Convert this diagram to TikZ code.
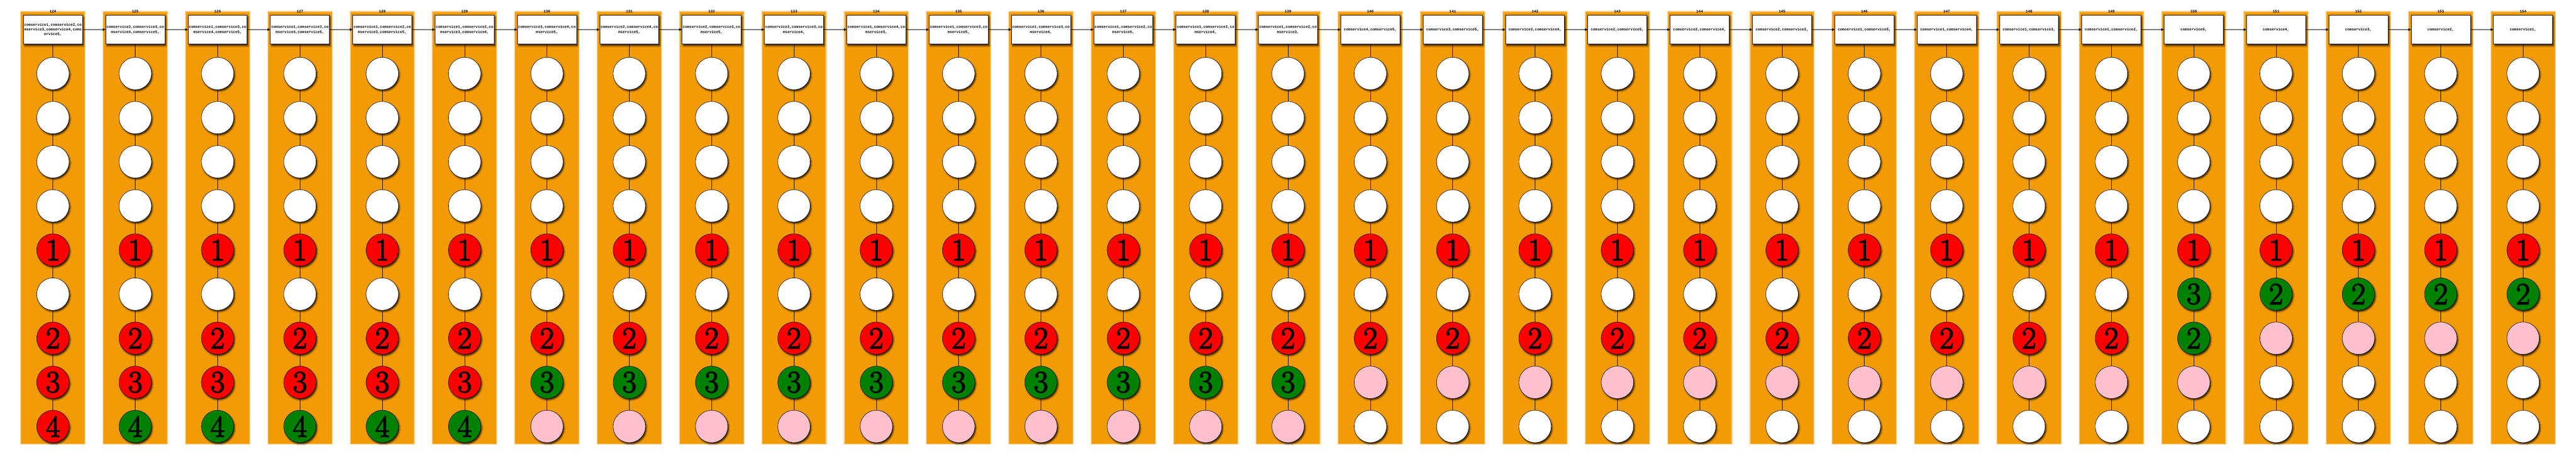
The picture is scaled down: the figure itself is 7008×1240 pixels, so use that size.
\documentclass[tikz,border=0pt]{standalone}
\usepackage{fontspec}
\newfontfamily\boxfont{Liberation Mono}
\newfontfamily\digfont{Latin Modern Roman}[FakeBold=3]
\usetikzlibrary{arrows.meta}
\IfFileExists{tikzlibraryshadows.blur.code.tex}{%
  \usetikzlibrary{shadows.blur}%
  \tikzset{
    boxshadow/.style={blur shadow={shadow xshift=3pt,shadow yshift=-5pt,shadow blur radius=3pt,shadow opacity=65}},
    circshadow/.style={blur shadow={shadow xshift=3pt,shadow yshift=-4pt,shadow blur radius=3pt,shadow opacity=75}}}%
}{%
  \usetikzlibrary{shadows}%
  \tikzset{
    boxshadow/.style={drop shadow={shadow xshift=3pt,shadow yshift=-5pt,opacity=.5,fill=black}},
    circshadow/.style={drop shadow={shadow xshift=3pt,shadow yshift=-4pt,opacity=.6,fill=black}}}%
}
\definecolor{bandorange}{RGB}{243,155,6}
\definecolor{cred}{RGB}{255,0,0}
\definecolor{cgreen}{RGB}{0,128,0}
\definecolor{cpink}{RGB}{255,192,203}
\newcommand\digitfont{\digfont\fontsize{84}{84}\selectfont}
\tikzset{
  boxn/.style={draw,line width=1.2pt,fill=white,minimum width=161pt,minimum height=79pt,
    inner sep=0pt,align=center,font=\boxfont\bfseries\fontsize{10}{13}\selectfont,boxshadow},
  titlen/.style={inner sep=0pt,font=\boxfont\bfseries\fontsize{10}{12}\selectfont},
  cnode/.style={circle,draw,line width=0.9pt,minimum size=88pt,inner sep=0pt,font=\digitfont,circshadow},
  cW/.style={fill=white},
  cR/.style={fill=cred},
  cG/.style={fill=cgreen},
  cP/.style={fill=cpink},
  conn/.style={line width=0.9pt},
  arr/.style={line width=1pt,-{Triangle[length=7pt,width=7pt]}}
}
\def\rownode#1#2#3#4\relax{\node[cnode,c#3] (c#1-#2) at (\cx,{200+120*#2}) {#4};}
\newcommand\onecol[7]{%
  \pgfmathsetmacro\cx{144+224*#1}%
  \pgfmathtruncatemacro\lab{124+#1}%
  \fill[bandorange,opacity=.3] ({\cx-89},30) rectangle ({\cx+89},1210);
  \fill[bandorange,opacity=.5] ({\cx-87.5},31.5) rectangle ({\cx+87.5},1208.5);
  \fill[bandorange] ({\cx-86},33) rectangle ({\cx+86},1207);
  \node[boxn] (b#1) at (\cx,80.5) {#2};
  \node[titlen] (t#1) at (\cx,30.5) {\lab};
  \foreach \k in {0,...,3} {\node[cnode,cW] (c#1-\k) at (\cx,{200+120*\k}) {};}
  \rownode{#1}{4}#3\relax
  \rownode{#1}{5}#4\relax
  \rownode{#1}{6}#5\relax
  \rownode{#1}{7}#6\relax
  \rownode{#1}{8}#7\relax
  \draw[conn] (b#1.south) -- (c#1-0.north);
  \foreach \k in {0,...,7} {\pgfmathtruncatemacro\kk{\k+1}\draw[conn] (c#1-\k.south) -- (c#1-\kk.north);}
}
\begin{document}
\begin{tikzpicture}[x=1pt,y=-1pt]
\useasboundingbox[fill=white] (0,0) rectangle (7008,1240);
\onecol{0}{comservice1,comservice2,co\\mservice3,comservice4,coms\\ervice5,}{R1}{W}{R2}{R3}{R4}
\onecol{1}{comservice2,comservice3,co\\mservice4,comservice5,}{R1}{W}{R2}{R3}{G4}
\onecol{2}{comservice1,comservice3,co\\mservice4,comservice5,}{R1}{W}{R2}{R3}{G4}
\onecol{3}{comservice1,comservice2,co\\mservice4,comservice5,}{R1}{W}{R2}{R3}{G4}
\onecol{4}{comservice1,comservice2,co\\mservice3,comservice5,}{R1}{W}{R2}{R3}{G4}
\onecol{5}{comservice1,comservice2,co\\mservice3,comservice4,}{R1}{W}{R2}{R3}{G4}
\onecol{6}{comservice3,comservice4,co\\mservice5,}{R1}{W}{R2}{G3}{P}
\onecol{7}{comservice2,comservice4,co\\mservice5,}{R1}{W}{R2}{G3}{P}
\onecol{8}{comservice2,comservice3,co\\mservice5,}{R1}{W}{R2}{G3}{P}
\onecol{9}{comservice2,comservice3,co\\mservice4,}{R1}{W}{R2}{G3}{P}
\onecol{10}{comservice1,comservice4,co\\mservice5,}{R1}{W}{R2}{G3}{P}
\onecol{11}{comservice1,comservice3,co\\mservice5,}{R1}{W}{R2}{G3}{P}
\onecol{12}{comservice1,comservice3,co\\mservice4,}{R1}{W}{R2}{G3}{P}
\onecol{13}{comservice1,comservice2,co\\mservice5,}{R1}{W}{R2}{G3}{P}
\onecol{14}{comservice1,comservice2,co\\mservice4,}{R1}{W}{R2}{G3}{P}
\onecol{15}{comservice1,comservice2,co\\mservice3,}{R1}{W}{R2}{G3}{P}
\onecol{16}{comservice4,comservice5,}{R1}{W}{R2}{P}{W}
\onecol{17}{comservice3,comservice5,}{R1}{W}{R2}{P}{W}
\onecol{18}{comservice3,comservice4,}{R1}{W}{R2}{P}{W}
\onecol{19}{comservice2,comservice5,}{R1}{W}{R2}{P}{W}
\onecol{20}{comservice2,comservice4,}{R1}{W}{R2}{P}{W}
\onecol{21}{comservice2,comservice3,}{R1}{W}{R2}{P}{W}
\onecol{22}{comservice1,comservice5,}{R1}{W}{R2}{P}{W}
\onecol{23}{comservice1,comservice4,}{R1}{W}{R2}{P}{W}
\onecol{24}{comservice1,comservice3,}{R1}{W}{R2}{P}{W}
\onecol{25}{comservice1,comservice2,}{R1}{W}{R2}{P}{W}
\onecol{26}{comservice5,}{R1}{G3}{G2}{P}{W}
\onecol{27}{comservice4,}{R1}{G2}{P}{W}{W}
\onecol{28}{comservice3,}{R1}{G2}{P}{W}{W}
\onecol{29}{comservice2,}{R1}{G2}{P}{W}{W}
\onecol{30}{comservice1,}{R1}{G2}{P}{W}{W}
\foreach \i in {0,...,29} {\pgfmathtruncatemacro\j{\i+1}\draw[arr] (b\i.east) -- (b\j.west);}
\end{tikzpicture}
\end{document}
